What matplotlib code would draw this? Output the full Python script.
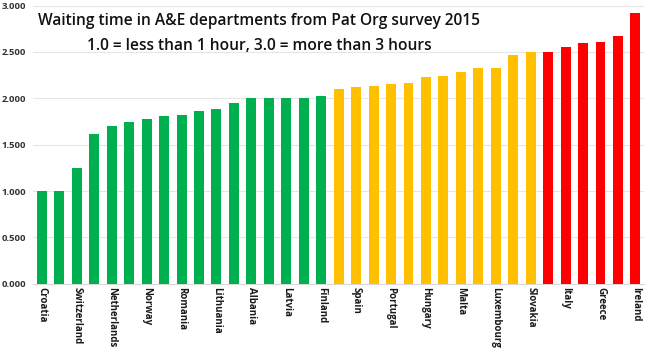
import matplotlib
matplotlib.use('Agg')
import matplotlib.pyplot as plt
from matplotlib.ticker import FormatStrFormatter

# every other country name is hidden on the original axis
countries = ['Croatia', '', 'Switzerland', '', 'Netherlands', '', 'Norway', '',
             'Romania', '', 'Lithuania', '', 'Albania', '', 'Latvia', '', 'Finland',
             '', 'Spain', '', 'Portugal', '', 'Hungary', '', 'Malta', '',
             'Luxembourg', '', 'Slovakia', '', 'Italy', '', 'Greece', '', 'Ireland']
green_vals = [1.00, 1.00, 1.25, 1.62, 1.70, 1.75, 1.78, 1.81, 1.82, 1.86,
              1.89, 1.95, 2.00, 2.00, 2.00, 2.00, 2.02]
yellow_vals = [2.10, 2.12, 2.13, 2.16, 2.17, 2.23, 2.24, 2.28, 2.33, 2.33,
               2.47, 2.50]
red_vals = [2.50, 2.55, 2.60, 2.61, 2.67, 2.92]

GREEN = '#00B050'
YELLOW = '#FFC000'
RED = '#FF0000'

values = green_vals + yellow_vals + red_vals
colors = [GREEN] * len(green_vals) + [YELLOW] * len(yellow_vals) + [RED] * len(red_vals)
x = list(range(len(values)))

plt.rcParams['font.family'] = ['Open Sans', 'DejaVu Sans']

fig = plt.figure(figsize=(6.5, 3.5), dpi=100, facecolor='white')
ax = fig.add_axes([0.051, 0.189, 0.940, 0.795])

ax.bar(x, values, width=0.57, color=colors, zorder=3)
ax.set_xlim(-0.5, len(values) - 0.5)
ax.set_ylim(0, 3.0)
ax.set_yticks([0, 0.5, 1.0, 1.5, 2.0, 2.5, 3.0])
ax.yaxis.set_major_formatter(FormatStrFormatter('%.3f'))
ax.grid(axis='y', color='#e6e6e6', linewidth=0.8, zorder=0)

shown = [i for i, c in enumerate(countries) if c]
ax.set_xticks(shown)
ax.set_xticklabels([countries[i] for i in shown], rotation=270,
                   fontsize=7, fontweight='bold', color='#1a1a1a')
ax.tick_params(axis='y', labelsize=6.8, length=0, pad=5, labelcolor='#333333')
for lab in ax.get_yticklabels():
    lab.set_fontweight('bold')
ax.tick_params(axis='x', length=0, pad=2)

for s in ['top', 'right', 'left']:
    ax.spines[s].set_visible(False)
ax.spines['bottom'].set_color('#d9d9d9')

ax.text(0.37, 0.945, 'Waiting time in A&E departments from Pat Org survey 2015',
        transform=ax.transAxes, ha='center', va='center', fontsize=11.2,
        fontweight='semibold', color='#111111')
ax.text(0.37, 0.855, '1.0 = less than 1 hour, 3.0 = more than 3 hours',
        transform=ax.transAxes, ha='center', va='center', fontsize=11.2,
        fontweight='semibold', color='#111111')

fig.savefig('out.png', dpi=100, facecolor='white')
